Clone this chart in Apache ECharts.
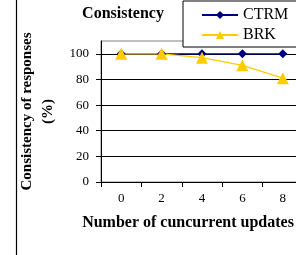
<!DOCTYPE html>
<html>
<head>
<meta charset="utf-8">
<script src="https://cdn.jsdelivr.net/npm/echarts@6/dist/echarts.min.js"></script>
<style>
html,body{margin:0;padding:0;background:#fff;overflow:hidden;width:296px;height:255px;}
#chart{width:303px;height:255px;}
</style>
</head>
<body>
<div id="chart"></div>
<script>
const categories = ['0', '2', '4', '6', '8'];
const ctrmValues = [100, 100, 100, 100, 100];
const brkValues = [100, 100, 97, 91, 81];
const yMin = 0, yMax = 110, yStep = 20;
const yTickValues = [0, 20, 40, 60, 80, 100];

const serif = 'Liberation Serif';
const chart = echarts.init(document.getElementById('chart'), null, {renderer: 'canvas'});
chart.setOption({
  animation: false,
  backgroundColor: '#fff',
  textStyle: {fontFamily: serif},
  title: {
    text: 'Consistency',
    left: 123, top: 6, padding: 0, textAlign: 'center',
    textStyle: {fontFamily: serif, fontWeight: 'bold', fontSize: 16, color: '#000'}
  },
  legend: {
    orient: 'vertical',
    left: 183, top: 1,
    padding: [6, 30, 4, 18],
    itemGap: 4,
    itemWidth: 36, itemHeight: 10,
    backgroundColor: '#fff',
    borderColor: '#000', borderWidth: 1, borderRadius: 0,
    textStyle: {fontFamily: serif, fontSize: 16, lineHeight: 15, color: '#000'},
    data: ['CTRM', 'BRK']
  },
  graphic: [{
    type: 'line', z: 100,
    shape: {x1: 16.5, y1: 0, x2: 16.5, y2: 255},
    style: {stroke: '#000', lineWidth: 1.2}
  }],
  grid: {
    left: 101, top: 41, right: 0, bottom: 73,
    show: true, borderColor: '#808080', borderWidth: 1, backgroundColor: '#fff'
  },
  xAxis: {
    type: 'category',
    data: categories,
    boundaryGap: true,
    name: 'Number of cuncurrent updates',
    nameLocation: 'middle',
    nameGap: 33,
    nameTextStyle: {fontFamily: serif, fontWeight: 'bold', fontSize: 16, color: '#000', padding: [0, 28, 0, 0]},
    axisLine: {lineStyle: {color: '#000', width: 1}},
    axisTick: {show: true, alignWithLabel: false, length: 5, lineStyle: {color: '#000'}},
    axisLabel: {fontFamily: serif, fontSize: 13, color: '#000', margin: 10}
  },
  yAxis: {
    type: 'value',
    min: yMin, max: yMax, interval: yStep,
    name: 'Consistency of responses\n(%)',
    nameLocation: 'middle',
    nameGap: 42,
    nameTextStyle: {fontFamily: serif, fontWeight: 'bold', fontSize: 15, lineHeight: 21, color: '#000'},
    axisLine: {show: true, lineStyle: {color: '#000', width: 1}},
    axisTick: {show: true, length: 5, lineStyle: {color: '#000'}, customValues: yTickValues},
    axisLabel: {fontFamily: serif, fontSize: 13, color: '#000', margin: 12, customValues: yTickValues},
    splitLine: {show: true, lineStyle: {color: ['#000', '#000', '#000', '#000', '#000', '#000', '#808080'], width: 1}}
  },
  series: [
    {
      name: 'CTRM', type: 'line', data: ctrmValues,
      symbol: 'diamond', symbolSize: 9,
      lineStyle: {color: '#000080', width: 1.3},
      itemStyle: {color: '#000080'}
    },
    {
      name: 'BRK', type: 'line', data: brkValues,
      symbol: 'triangle', symbolSize: 12,
      lineStyle: {color: '#FFCC00', width: 1.3},
      itemStyle: {color: '#FFCC00'}
    }
  ]
});
</script>
</body>
</html>
